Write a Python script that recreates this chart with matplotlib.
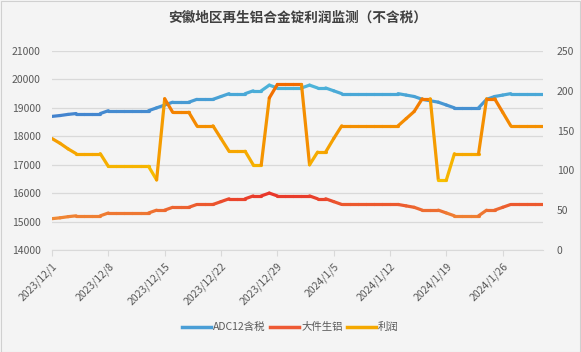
import numpy as np
import pandas as pd
import matplotlib
matplotlib.use('Agg')
import matplotlib.pyplot as plt
from matplotlib.collections import LineCollection
from matplotlib.colors import LinearSegmentedColormap, Normalize
from matplotlib.lines import Line2D
import matplotlib.dates as mdates

plt.rcParams['font.family'] = ['Noto Sans CJK SC', 'DejaVu Sans']

# daily data 2023/12/1 - 2024/1/31
dates = pd.date_range('2023-12-01', '2024-01-31', freq='D')

adc12 = [18700, 18730, 18770, 18800, 18800, 18800, 18800, 18900, 18900, 18900,
         18900, 18900, 18900, 19000, 19100, 19200, 19200, 19200, 19300, 19300,
         19300, 19400, 19500, 19500, 19500, 19600, 19600, 19800, 19700, 19700,
         19700, 19700, 19800, 19700, 19700, 19600, 19500, 19500, 19500, 19500,
         19500, 19500, 19500, 19500, 19450, 19400, 19300, 19250, 19200, 19100,
         19000, 19000, 19000, 19000, 19300, 19400, 19450, 19500, 19500, 19500,
         19500, 19500]

scrap = [15100, 15130, 15170, 15200, 15200, 15200, 15200, 15300, 15300, 15300,
         15300, 15300, 15300, 15400, 15400, 15500, 15500, 15500, 15600, 15600,
         15600, 15700, 15800, 15800, 15800, 15900, 15900, 16000, 15900, 15900,
         15900, 15900, 15900, 15800, 15800, 15700, 15600, 15600, 15600, 15600,
         15600, 15600, 15600, 15600, 15550, 15500, 15400, 15400, 15400, 15300,
         15200, 15200, 15200, 15200, 15400, 15400, 15500, 15600, 15600, 15600,
         15600, 15600]

profit = [140, 134, 127, 121, 121, 121, 121, 105, 105, 105,
          105, 105, 105, 88, 190, 173, 173, 173, 156, 156,
          156, 140, 124, 124, 124, 107, 107, 191, 208, 208,
          208, 208, 107, 123, 123, 140, 156, 156, 156, 156,
          156, 156, 156, 156, 165, 174, 190, 190, 88, 88,
          121, 121, 121, 121, 190, 190, 173, 156, 156, 156,
          156, 156]

tick_dates = pd.date_range('2023-12-01', '2024-01-26', freq='7D')
tick_labels = [f'{d.year}/{d.month}/{d.day}' for d in tick_dates]

BG = '#F4F4F4'
GRID = '#D9D9D9'
TXT = '#595959'


def grad_line(ax, x, y, c_low, c_high, lw=2.3):
    x = mdates.date2num(x)
    y = np.asarray(y, dtype=float)
    pts = np.column_stack([x, y]).reshape(-1, 1, 2)
    segs = np.concatenate([pts[:-1], pts[1:]], axis=1)
    cmap = LinearSegmentedColormap.from_list('g', [c_low, c_high])
    norm = Normalize(y.min(), y.max())
    mid = (y[:-1] + y[1:]) / 2
    lc = LineCollection(segs, colors=cmap(norm(mid)), linewidths=lw,
                        capstyle='round', joinstyle='round')
    ax.add_collection(lc)
    return lc


fig = plt.figure(figsize=(5.81, 3.52), dpi=100, facecolor=BG)
ax = fig.add_axes([0.0895, 0.29, 0.845, 0.565])
ax.set_facecolor(BG)
ax2 = ax.twinx()

grad_line(ax, dates, adc12, '#4382CE', '#4DB6DA')
grad_line(ax, dates, scrap, '#F08A34', '#E8322A')
grad_line(ax2, dates, profit, '#F7C000', '#F26A00')

ax.set_xlim(mdates.date2num(dates[0]), mdates.date2num(dates[-1]))
ax.set_ylim(14000, 21000)
ax.set_yticks(np.arange(14000, 21001, 1000))
ax2.set_ylim(0, 250)
ax2.set_yticks(np.arange(0, 251, 50))

ax.grid(axis='y', color=GRID, linewidth=0.9)
ax.set_axisbelow(True)

ax.set_xticks(mdates.date2num(tick_dates))
ax.set_xticklabels(tick_labels, rotation=45, ha='right', va='top',
                   rotation_mode='anchor', fontsize=7.5, color=TXT)
ax.tick_params(axis='x', length=4, color=GRID, pad=4)
ax.tick_params(axis='y', length=0, labelsize=7.5, labelcolor=TXT, pad=8)
ax2.tick_params(axis='y', length=0, labelsize=7.5, labelcolor=TXT, pad=10)

for a in (ax, ax2):
    for s in ('left', 'right', 'top'):
        a.spines[s].set_visible(False)
ax.spines['bottom'].set_color(GRID)
ax2.spines['bottom'].set_visible(False)

fig.text(0.512, 0.95, '安徽地区再生铝合金锭利润监测（不含税）', ha='center', va='center',
         fontsize=9.8, fontweight='bold', color='#404040')

handles = [Line2D([], [], color='#4A9ED6', lw=2.5),
           Line2D([], [], color='#EE5A34', lw=2.5),
           Line2D([], [], color='#F4A800', lw=2.5)]
fig.legend(handles, ['ADC12含税', '大件生铝', '利润'], loc='center',
           bbox_to_anchor=(0.5, 0.07), ncol=3, frameon=False, fontsize=7.5,
           labelcolor=TXT, handlelength=2.8, columnspacing=0.4, handletextpad=0.2)

fig.patches.append(plt.Rectangle((0.001, 0.001), 0.998, 0.997, transform=fig.transFigure,
                                 fill=False, edgecolor='#D0D0D0', linewidth=0.8))

fig.savefig('out.png', dpi=100, facecolor=BG)
